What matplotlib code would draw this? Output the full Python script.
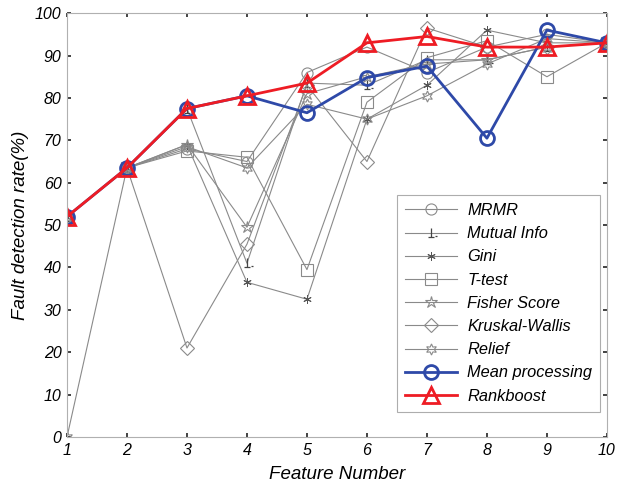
import matplotlib
matplotlib.use('Agg')
import matplotlib.pyplot as plt
from matplotlib.path import Path
import numpy as np

plt.rcParams['font.family'] = ['Liberation Sans', 'DejaVu Sans']
plt.rcParams['font.style'] = 'italic'

features = [1, 2, 3, 4, 5, 6, 7, 8, 9, 10]

mrmr     = [52, 63.5, 68,   65,   86,   92,   86,   92,   95,   93]
mutual   = [52, 63.5, 77.5, 41,   83.5, 83,   89,   89,   92,   93]
gini     = [52, 63.5, 69,   36.5, 32.5, 75,   83,   96,   93,   93]
ttest    = [52, 63.5, 67.5, 66,   39.5, 79,   89.5, 93.5, 85,   93]
fisher   = [52, 63.5, 69,   49.5, 81,   85,   88,   89,   92,   93]
kruskal  = [52, 63.5, 21,   45.5, 83,   65,   96.5, 92,   92,   93]
relief   = [0,  63.5, 68.5, 63.5, 78.5, 75,   80.5, 88,   94,   93]
mean_proc = [52, 63.5, 77.5, 80.5, 76.5, 84.8, 87.5, 70.5, 96, 93]
rankboost = [52, 63.5, 77.5, 80.5, 83.5, 93,   94.5, 92,   92, 93]

# "inverted T" marker for mutual info, with a small tick beside it
perp = Path([(0, 0.9), (0, -0.6), (-0.5, -0.6), (0.5, -0.6), (0.7, -0.55), (0.95, -0.55)],
            [Path.MOVETO, Path.LINETO, Path.MOVETO, Path.LINETO, Path.MOVETO, Path.LINETO])

gray = '#8a8a8a'
fig = plt.figure(figsize=(6.17, 4.88), dpi=100)
ax = fig.add_axes([0.1086, 0.1045, 0.875, 0.8685])

thin = dict(color=gray, lw=0.8, ms=8, mfc='none', mec=gray, mew=0.8)
ax.plot(features, mrmr, marker='o', label='MRMR', **thin)
ax.plot(features, mutual, marker=perp, label='Mutual Info',
        color=gray, lw=0.8, ms=8, mec='#444444', mew=0.9)
ax.plot(features, gini, marker=(6, 2, 0), label='Gini',
        color=gray, lw=0.8, ms=6, mec='#555555', mew=0.7)
ax.plot(features, ttest, marker='s', label='T-test', **thin)
ax.plot(features, fisher, marker='*', label='Fisher Score', **{**thin, 'ms': 9})
ax.plot(features, kruskal, marker='D', label='Kruskal-Wallis', **{**thin, 'ms': 7})
ax.plot(features, relief, marker=(6, 1, 0), label='Relief', **thin)
ax.plot(features, mean_proc, marker='o', label='Mean processing',
        color='#2e49a8', lw=2.0, ms=10, mfc='none', mew=2.0)
ax.plot(features, rankboost, marker='^', label='Rankboost',
        color='#ee1c24', lw=2.0, ms=11, mfc='none', mew=2.0)

ax.set_xlim(1, 10)
ax.set_ylim(0, 100)
ax.set_xticks(features)
ax.set_yticks(np.arange(0, 101, 10))
ax.tick_params(direction='in', length=3, width=1.2, color='#222222',
               labelsize=11.5, top=True, right=True, pad=4)
for s in ax.spines.values():
    s.set_color('#b0b0b0')
    s.set_linewidth(0.8)

ax.set_xlabel('Feature Number', fontsize=13.5, labelpad=6)
ax.set_ylabel('Fault detection rate(%)', fontsize=13.5, labelpad=4)

leg = ax.legend(loc='lower right', bbox_to_anchor=(1.003, 0.04),
                fontsize=11.8, frameon=True, fancybox=False, handlelength=3.2,
                borderpad=0.5, labelspacing=0.5, handletextpad=0.6)
leg.get_frame().set_edgecolor('#999999')
leg.get_frame().set_linewidth(0.8)

fig.savefig('out.png', dpi=100)
